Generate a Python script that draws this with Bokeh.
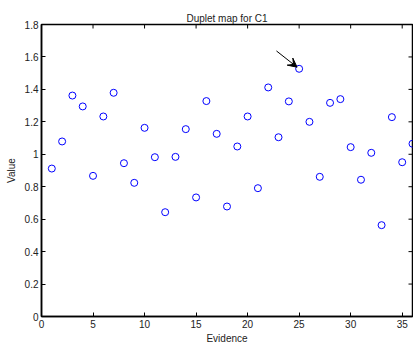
import math
from bokeh.plotting import figure
from bokeh.models import Range1d, FixedTicker, CustomJSTickFormatter, Arrow, VeeHead
from bokeh.embed import file_html
from bokeh.resources import INLINE

evidence = list(range(1, 37))
values = [0.912, 1.079, 1.362, 1.295, 0.867, 1.233, 1.379, 0.945, 0.824, 1.163,
          0.982, 0.643, 0.984, 1.155, 0.734, 1.328, 1.126, 0.678, 1.048, 1.233,
          0.791, 1.412, 1.105, 1.326, 1.527, 1.200, 0.861, 1.317, 1.340, 1.044,
          0.843, 1.009, 0.563, 1.229, 0.951, 1.065]
x_ticks = [0, 5, 10, 15, 20, 25, 30, 35]
y_ticks = [0, 0.2, 0.4, 0.6, 0.8, 1.0, 1.2, 1.4, 1.6, 1.8]
x_lim = (0, 36)
y_lim = (0, 1.8)
highlight_index = 24

FONT = "Liberation Sans"

p = figure(width=413, height=349, output_backend="svg", toolbar_location=None,
           x_range=Range1d(*x_lim), y_range=Range1d(*y_lim),
           title="Duplet map for C1",
           min_border_left=41, min_border_right=1, min_border_top=24, min_border_bottom=33)
p.title.align = "center"
p.title.text_font = FONT
p.title.text_font_size = "10px"
p.title.text_font_style = "normal"
p.title.text_color = "#222222"
p.title.standoff = 2

p.grid.visible = False
p.outline_line_color = "black"
p.outline_line_width = 1.5
p.outline_line_alpha = 1.0

fmt = CustomJSTickFormatter(code="var s = tick.toFixed(1); return s.replace(/\\.0$/, '');")

for ax in p.xaxis:
    ax.ticker = FixedTicker(ticks=x_ticks)
    ax.axis_label = "Evidence"
    ax.axis_label_standoff = 2
for ax in p.yaxis:
    ax.ticker = FixedTicker(ticks=y_ticks)
    ax.formatter = fmt
    ax.axis_label = "Value"
    ax.axis_label_standoff = 5

for ax in p.xaxis + p.yaxis:
    ax.axis_line_color = "black"
    ax.axis_line_width = 1.5
    ax.major_tick_in = 4
    ax.major_tick_out = 0
    ax.minor_tick_line_color = None
    ax.major_tick_line_color = "black"
    ax.major_label_text_font = FONT
    ax.major_label_text_font_size = "10px"
    ax.major_label_text_color = "#222222"
    ax.axis_label_text_font = FONT
    ax.axis_label_text_font_size = "10px"
    ax.axis_label_text_font_style = "normal"
    ax.axis_label_text_color = "#222222"
    ax.major_label_standoff = 3

# mirrored ticks on top and right edges (half of each dash is clipped by the frame)
p.scatter(x_ticks, [y_lim[1]] * len(x_ticks), marker="dash", angle=math.pi / 2,
          size=8, line_color="black", line_width=1)
p.scatter([x_lim[1]] * len(y_ticks), y_ticks, marker="dash",
          size=8, line_color="black", line_width=1)

p.scatter(evidence, values, marker="circle", size=7, fill_color=None,
          line_color="#0000FF", line_width=1)

hx = evidence[highlight_index]
hy = values[highlight_index]
p.add_layout(Arrow(end=VeeHead(size=9, fill_color="black", line_color="black"),
                   x_start=hx - 2.2, y_start=hy + 0.11, x_end=hx - 0.2, y_end=hy + 0.01,
                   line_color="black", line_width=1))

open("out.html", "w").write(file_html(p, INLINE))
